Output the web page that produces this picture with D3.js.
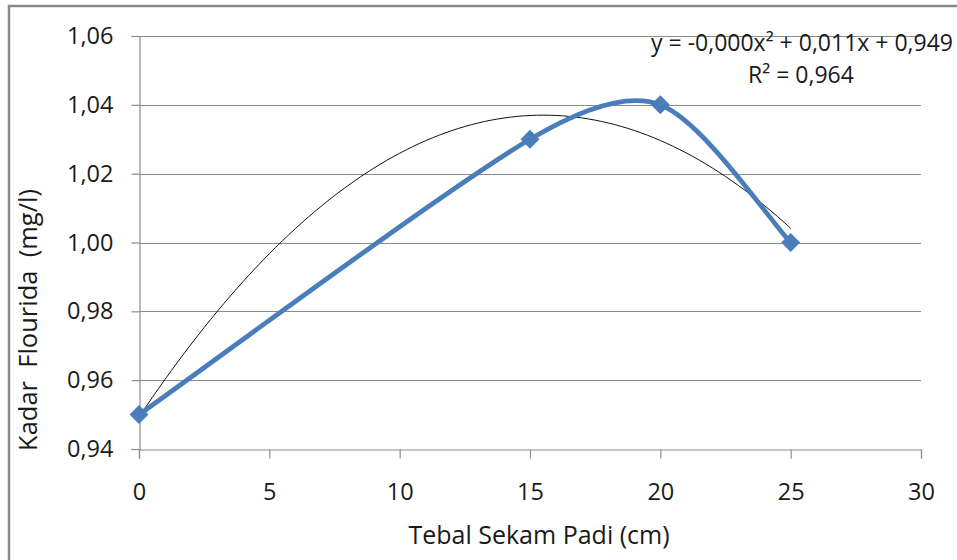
<!DOCTYPE html>
<html>
<head>
<meta charset="utf-8">
<script src="https://cdn.jsdelivr.net/npm/d3@7"></script>
<style>
  html, body { margin: 0; padding: 0; background: #fff; }
  svg { display: block; }
  text { font-family: "Open Sans", Lato, sans-serif; fill: #1a1a1a; }
</style>
</head>
<body>
<svg id="chart" width="957" height="560"></svg>
<script>
// Ketebalan sekam padi (cm) dan kadar fluorida (mg/l)
const tebal = [0, 15, 20, 25];
const kadar = [0.95, 1.03, 1.04, 1.00];
const xTicks = [0, 5, 10, 15, 20, 25, 30];
const yTicks = [0.94, 0.96, 0.98, 1.00, 1.02, 1.04, 1.06];
const eqLabel = "y = -0,000x² + 0,011x + 0,949";
const r2Label = "R² = 0,964";

const svg = d3.select("#chart");
const W = 957, H = 560;
const m = { left: 139, right: 921, top: 36, bottom: 449 };
const FONT = "'Open Sans', Lato, sans-serif";

const x = d3.scaleLinear().domain([0, 30]).range([m.left, m.right]);
const y = d3.scaleLinear().domain([0.94, 1.06]).range([m.bottom, m.top]);
const fmt = v => d3.format(".2f")(v).replace(".", ",");

// chart frame
svg.append("rect")
  .attr("x", 9).attr("y", 6).attr("width", W + 10).attr("height", H + 10)
  .attr("fill", "#fff").attr("stroke", "#8a8a8a").attr("stroke-width", 2.5);

// horizontal gridlines
svg.append("g").selectAll("line")
  .data(yTicks.slice(1)).join("line")
  .attr("x1", m.left).attr("x2", m.right)
  .attr("y1", d => Math.round(y(d)) + 0.5).attr("y2", d => Math.round(y(d)) + 0.5)
  .attr("stroke", "#8c8c8c").attr("stroke-width", 1.2);

// y axis
const yAxis = svg.append("g")
  .attr("transform", `translate(${m.left + 0.5},0)`)
  .call(d3.axisLeft(y).tickValues(yTicks).tickFormat(fmt).tickSize(8).tickPadding(18));
// x axis
const xAxis = svg.append("g")
  .attr("transform", `translate(0,${m.bottom + 0.5})`)
  .call(d3.axisBottom(x).tickValues(xTicks).tickFormat(d3.format("d")).tickSize(9).tickPadding(25));

[yAxis, xAxis].forEach(g => {
  g.select(".domain").attr("stroke", "#8c8c8c").attr("stroke-width", 1.2);
  g.selectAll(".tick line").attr("stroke", "#8c8c8c").attr("stroke-width", 1.2);
  g.selectAll(".tick text").attr("font-size", 23.5).attr("fill", "#1a1a1a")
    .style("font-family", FONT);
});

// least-squares quadratic trendline through the measured points
function polyFit2(xs, ys) {
  let s = [0, 0, 0, 0, 0], t = [0, 0, 0];
  xs.forEach((xv, i) => {
    for (let k = 0; k < 5; k++) s[k] += Math.pow(xv, k);
    for (let k = 0; k < 3; k++) t[k] += Math.pow(xv, k) * ys[i];
  });
  const A = [[s[0], s[1], s[2], t[0]], [s[1], s[2], s[3], t[1]], [s[2], s[3], s[4], t[2]]];
  for (let i = 0; i < 3; i++) {
    for (let j = i + 1; j < 3; j++) {
      const f = A[j][i] / A[i][i];
      for (let k = i; k < 4; k++) A[j][k] -= f * A[i][k];
    }
  }
  const c = [0, 0, 0];
  for (let i = 2; i >= 0; i--) {
    let v = A[i][3];
    for (let k = i + 1; k < 3; k++) v -= A[i][k] * c[k];
    c[i] = v / A[i][i];
  }
  return c;
}
const coef = polyFit2(tebal, kadar);
const trendX = d3.range(0, 25.001, 0.25);
svg.append("path")
  .datum(trendX)
  .attr("fill", "none").attr("stroke", "#111").attr("stroke-width", 1)
  .attr("d", d3.line().x(d => x(d)).y(d => y(coef[0] + coef[1] * d + coef[2] * d * d)));

// smoothed series: cubic Bezier segments, control arms 1/6 of the neighbour chord,
// limited to half of the segment length
function smoothPath(p) {
  const path = d3.path();
  const dist = (a, b) => Math.hypot(b[0] - a[0], b[1] - a[1]);
  path.moveTo(p[0][0], p[0][1]);
  for (let i = 0; i < p.length - 1; i++) {
    const p0 = p[Math.max(i - 1, 0)], p1 = p[i], p2 = p[i + 1], p3 = p[Math.min(i + 2, p.length - 1)];
    const d02 = dist(p0, p2), d12 = dist(p1, p2), d13 = dist(p1, p3);
    let f0 = 1 / 6, f1 = 1 / 6;
    const lim = 0.5 * d12;
    if (d02 / 6 >= lim || d13 / 6 >= lim) {
      const g = Math.min(d02 / 6 >= lim ? lim / d02 : 1 / 6, d13 / 6 >= lim ? lim / d13 : 1 / 6);
      f0 = g; f1 = g;
    }
    const c1 = [p1[0] + f0 * (p2[0] - p0[0]), p1[1] + f0 * (p2[1] - p0[1])];
    const c2 = [p2[0] - f1 * (p3[0] - p1[0]), p2[1] - f1 * (p3[1] - p1[1])];
    path.bezierCurveTo(c1[0], c1[1], c2[0], c2[1], p2[0], p2[1]);
  }
  return path.toString();
}

const pts = tebal.map((t, i) => [t, kadar[i]]);
const px = pts.map(d => [x(d[0]), y(d[1])]);
svg.append("path")
  .attr("fill", "none").attr("stroke", "#4a7ebb").attr("stroke-width", 4.8)
  .attr("stroke-linejoin", "round")
  .attr("d", smoothPath(px));

svg.append("g").selectAll("path")
  .data(pts).join("path")
  .attr("transform", d => `translate(${x(d[0])},${y(d[1])})`)
  .attr("d", "M0,-9.5L9.5,0L0,9.5L-9.5,0Z")
  .attr("fill", "#4a7ebb");

// trendline label
svg.append("text").attr("x", 953).attr("y", 51).attr("text-anchor", "end")
  .attr("font-size", 23).text(eqLabel);
svg.append("text").attr("x", 801).attr("y", 83).attr("text-anchor", "middle")
  .attr("font-size", 23).text(r2Label);

// axis titles
svg.append("text").attr("x", 539).attr("y", 544).attr("text-anchor", "middle")
  .attr("font-size", 25).text("Tebal Sekam Padi (cm)");
svg.append("text")
  .attr("transform", "translate(37,320) rotate(-90)")
  .attr("text-anchor", "middle").attr("font-size", 25.5)
  .attr("xml:space", "preserve").style("white-space", "pre")
  .text("Kadar  Flourida  (mg/l)");
</script>
</body>
</html>
